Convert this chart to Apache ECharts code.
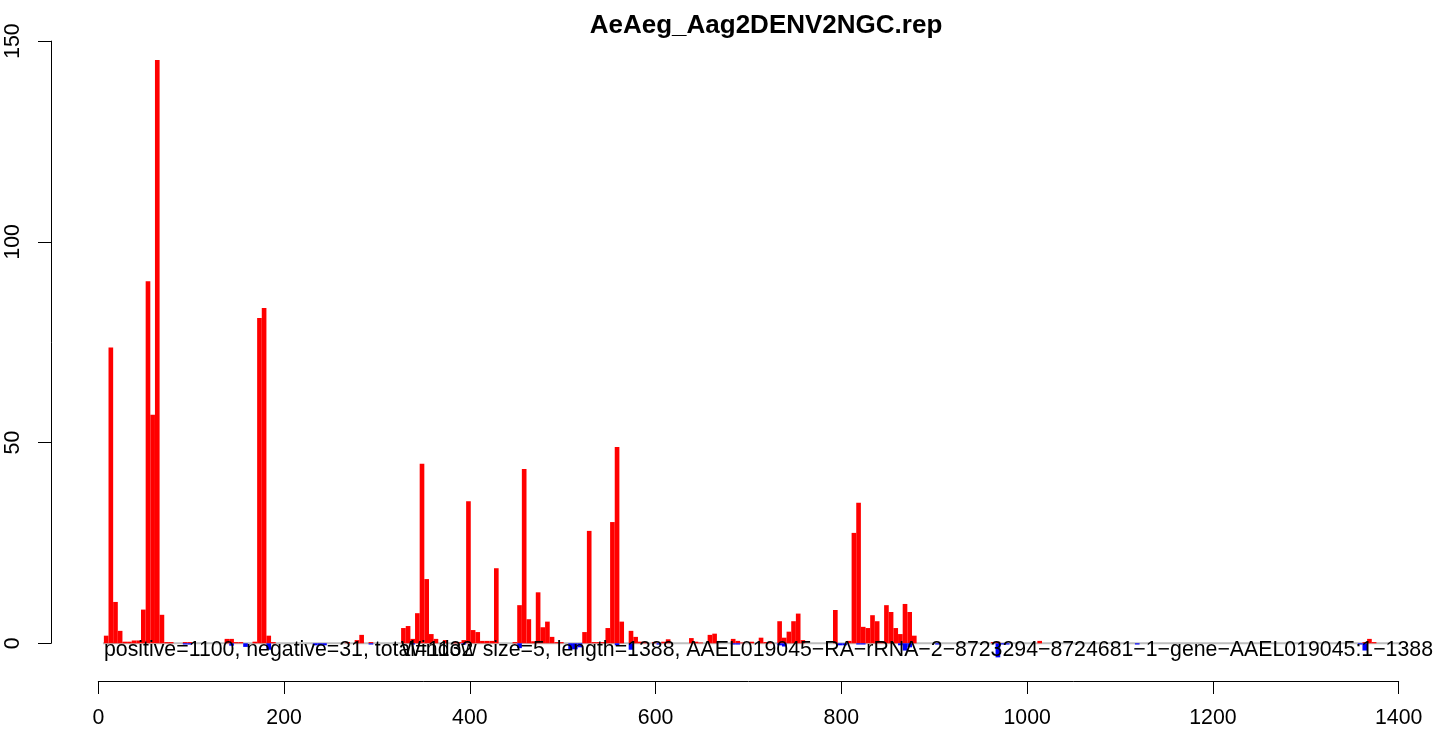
<!DOCTYPE html>
<html><head><meta charset="utf-8">
<script src="https://cdn.jsdelivr.net/npm/echarts@6/dist/echarts.min.js"></script>
<style>html,body{margin:0;padding:0;background:#fff}#c{width:1447px;height:732px}</style>
</head><body><div id="c"></div>
<script>
const chartTitle = 'AeAeg_Aag2DENV2NGC.rep';
const note1 = 'positive=1100, negative=31, total=1132';
const note2 = 'Window size=5, length=1388, AAEL019045\u2212RA\u2212rRNA\u22122\u22128723294\u22128724681\u22121\u2212gene\u2212AAEL019045:1\u22121388';
const windowSize = 5;
// window start positions and read counts (positive strand, red)
const posStart = [6,11,16,21,26,31,36,41,46,51,56,61,66,71,76,91,96,136,141,146,151,166,171,176,181,186,266,276,281,291,
  326,331,336,341,346,351,356,361,371,381,386,391,396,401,406,411,416,421,426,446,451,456,461,466,471,476,481,486,491,496,
  521,526,531,536,541,546,551,556,561,571,576,581,586,596,606,611,636,641,646,656,661,681,686,691,701,711,716,721,
  731,736,741,746,751,756,791,806,811,816,821,826,831,836,841,846,851,856,861,866,871,876,961,966,1011,1361,1366,1371];
const posValue = [1.9,73.7,10.3,3.1,0.4,0.4,0.7,0.7,8.4,90.2,56.9,145.3,7.1,0.3,0.3,0.3,0.3,1.1,1.1,0.3,0.3,0.4,81,83.5,1.9,0.3,0.3,0.8,2.1,0.3,
  3.8,4.3,1.1,7.5,44.7,16,2.3,1.1,0.8,0.3,0.3,0.8,35.4,3.3,2.8,0.6,0.6,0.6,18.7,0.3,9.5,43.4,6,0.5,12.7,4,5.4,1.6,0.3,0.3,
  2.8,28,0.3,0.3,0.3,3.8,30.2,48.9,5.4,3.1,1.6,0.4,0.3,0.3,0.4,1.0,1.3,0.4,0.2,2.1,2.4,1.1,0.6,0.2,0.4,1.4,0.3,0.3,
  5.5,1.4,2.9,5.5,7.4,0.8,8.3,0.6,27.5,35,4.1,3.8,7,5.5,0.5,9.5,7.8,3.8,2.3,9.8,7.8,1.9,0.3,0.4,0.6,0.3,1.1,0.3];
// negative strand (blue)
const negStart = [91,96,141,156,181,231,236,241,291,336,391,451,506,511,516,556,571,601,681,686,731,736,796,801,816,821,861,866,871,901,966,971,976,1116,1356,1361];
const negValue = [-0.3,-0.3,-0.6,-0.9,-1.6,-0.5,-0.5,-0.5,-0.3,-0.3,-0.3,-1.2,-1.5,-1.5,-1.0,-0.5,-1.6,-0.3,-0.3,-0.3,-0.5,-0.8,-0.5,-0.5,-0.3,-0.3,-0.5,-1.8,-1.0,-0.3,-3.5,-0.3,-0.3,-0.3,-0.3,-1.8];
const xTicks = [0, 1400, 200];   // min, max, step
const yTicks = [0, 150, 50];
const baselineX = [5, 1437];
const baselineY = [0, 0];

const FONT = '"Liberation Sans", Arial, Helvetica, sans-serif';
const W = 1447;
const G = {left: 98.3, right: 48.3, top: 41.1, bottom: 88.7};
const unitPx = (W - G.left - G.right) / (xTicks[1] - xTicks[0]);
const barW = unitPx * windowSize;

const posData = posStart.map((s, i) => [s + windowSize / 2, posValue[i]]);
const negData = negStart.map((s, i) => [s + windowSize / 2, negValue[i]]);
const baseData = baselineX.map((x, i) => [x, baselineY[i]]);

const chart = echarts.init(document.getElementById('c'), null, {renderer: 'canvas'});
chart.setOption({
  animation: false,
  backgroundColor: '#ffffff',
  grid: G,
  xAxis: {
    type: 'value', min: xTicks[0], max: xTicks[1], interval: xTicks[2],
    position: 'bottom', offset: 37.7,
    axisLine: {show: true, onZero: false, lineStyle: {color: '#000', width: 1}},
    axisTick: {show: true, length: 13, lineStyle: {color: '#000', width: 1}},
    axisLabel: {color: '#000', fontSize: 21.3, fontFamily: FONT, margin: 27, formatter: v => String(v)},
    splitLine: {show: false}
  },
  yAxis: {
    type: 'value', min: yTicks[0], max: yTicks[1], interval: yTicks[2],
    position: 'left', offset: 47.3,
    axisLine: {show: true, onZero: false, lineStyle: {color: '#000', width: 1}},
    axisTick: {show: true, length: 13, lineStyle: {color: '#000', width: 1}},
    axisLabel: {color: '#000', fontSize: 21.3, fontFamily: FONT, rotate: 90, margin: 27.5, formatter: v => String(v)},
    splitLine: {show: false}
  },
  series: [
    {
      type: 'line', name: 'baseline', data: baseData, clip: false, silent: true,
      symbol: 'none', lineStyle: {color: '#bebebe', width: 2}, z: 1
    },
    {
      type: 'bar', name: 'positive', data: posData, barWidth: barW, barGap: '-100%',
      clip: false, itemStyle: {color: '#ff0000'}, z: 3
    },
    {
      type: 'bar', name: 'negative', data: negData, barWidth: barW, barGap: '-100%',
      clip: false, itemStyle: {color: '#0000ff'}, z: 4
    }
  ],
  graphic: [
    {type: 'text', x: 766, y: 26, z: 10,
     style: {text: chartTitle, font: 'bold 26px ' + FONT, fill: '#000', align: 'center', verticalAlign: 'middle', textAlign: 'center', textVerticalAlign: 'middle'}},
    {type: 'text', x: 104, y: 650.5, z: 10,
     style: {text: note1, font: '21.3px ' + FONT, fill: '#000', align: 'left', verticalAlign: 'middle', textAlign: 'left', textVerticalAlign: 'middle'}},
    {type: 'text', x: 401, y: 650.5, z: 10,
     style: {text: note2, font: '21.3px ' + FONT, fill: '#000', align: 'left', verticalAlign: 'middle', textAlign: 'left', textVerticalAlign: 'middle'}}
  ]
});
</script></body></html>
